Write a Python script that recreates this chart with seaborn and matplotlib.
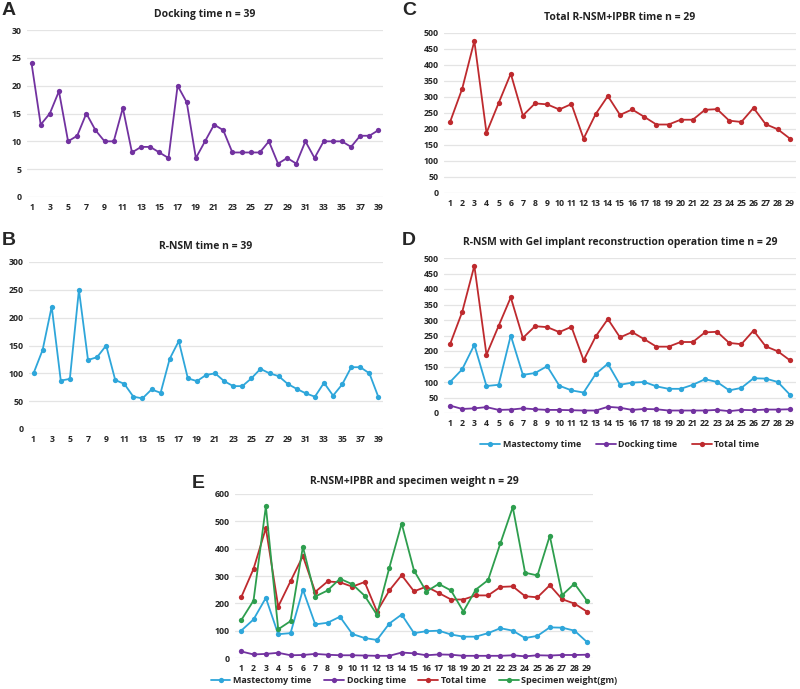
import numpy as np
import pandas as pd
import matplotlib
matplotlib.use("Agg")
import matplotlib.pyplot as plt
import seaborn as sns

# ---- data ----
docking_39 = [24, 13, 15, 19, 10, 11, 15, 12, 10, 10, 16, 8, 9, 9, 8, 7, 20, 17, 7, 10,
              13, 12, 8, 8, 8, 8, 10, 6, 7, 6, 10, 7, 10, 10, 10, 9, 11, 11, 12]
rnsm_39 = [100, 142, 220, 87, 90, 250, 124, 129, 150, 88, 81, 58, 55, 71, 65, 126, 158, 91, 86, 97,
           100, 86, 77, 77, 91, 108, 100, 95, 81, 72, 64, 58, 83, 60, 80, 111, 111, 100, 57]

mastectomy_29 = [100, 141, 220, 87, 91, 250, 123, 129, 151, 88, 73, 66, 126, 159, 91, 98, 100, 86,
                 78, 78, 91, 109, 100, 73, 81, 112, 111, 100, 59]
docking_29 = [24, 13, 15, 19, 10, 11, 15, 12, 10, 10, 9, 8, 8, 20, 17, 10, 13, 12, 8, 8,
              8, 8, 10, 6, 10, 9, 11, 11, 12]
total_29 = [222, 326, 475, 188, 281, 373, 242, 280, 277, 261, 278, 170, 247, 303, 244, 261, 238,
            214, 214, 229, 229, 260, 262, 226, 222, 266, 215, 199, 170]
specimen_29 = [138, 210, 555, 105, 135, 407, 225, 247, 290, 270, 228, 158, 330, 492, 320, 243,
               271, 247, 170, 250, 285, 420, 552, 312, 302, 447, 230, 272, 210]

cases_39 = list(range(1, 40))
cases_29 = list(range(1, 30))

PURPLE = "#7232A0"
BLUE = "#2EA6DA"
RED = "#BE2A2E"
GREEN = "#2E9E4E"

sns.set_style("white")
plt.rcParams['font.family'] = ['Open Sans', 'DejaVu Sans']

W, H = 800, 689
fig = plt.figure(figsize=(W / 100, H / 100), dpi=100)


def px_axes(left, top, right, bottom):
    return fig.add_axes([left / W, 1 - bottom / H, (right - left) / W, (bottom - top) / H])


def style(ax, n, ymax, ystep, title, tick_every=1, title_pad=9):
    ax.set_xlim(0.5, n + 0.5)
    ax.set_ylim(0, ymax)
    ax.set_yticks(np.arange(0, ymax + 1, ystep))
    ax.set_xticks(range(1, n + 1, tick_every))
    ax.yaxis.grid(True, color="#e4e4e4", linewidth=0.9)
    ax.set_axisbelow(True)
    for s in ax.spines.values():
        s.set_visible(False)
    ax.tick_params(axis="both", length=0, labelsize=6.3, pad=4)
    for lab in ax.get_xticklabels() + ax.get_yticklabels():
        lab.set_fontweight("bold")
    ax.set_xlabel("")
    ax.set_ylabel("")
    ax.set_title(title, fontsize=7.5, fontweight="bold", pad=title_pad, color="#222222")


def draw(ax, x, y, color, label=None):
    sns.lineplot(x=x, y=y, ax=ax, color=color, marker="o", markersize=3.8,
                 markeredgewidth=0, linewidth=1.3, label=label, legend=False)


# A
axA = px_axes(27, 30, 383, 197)
draw(axA, cases_39, docking_39, PURPLE)
style(axA, 39, 30, 5, "Docking time n = 39", tick_every=2)

# B
axB = px_axes(29, 262, 383, 429)
draw(axB, cases_39, rnsm_39, BLUE)
style(axB, 39, 300, 50, "R-NSM time n = 39", tick_every=2)

# C
axC = px_axes(444, 33, 796, 193)
draw(axC, cases_29, total_29, RED)
style(axC, 29, 500, 50, "Total R-NSM+IPBR time n = 29")

# D
axD = px_axes(444, 258, 796, 413)
draw(axD, cases_29, mastectomy_29, BLUE, "Mastectomy time")
draw(axD, cases_29, docking_29, PURPLE, "Docking time")
draw(axD, cases_29, total_29, RED, "Total time")
style(axD, 29, 500, 50, "R-NSM with Gel implant reconstruction operation time n = 29")
axD.legend(loc="upper center", bbox_to_anchor=(0.5, -0.12), ncol=3, frameon=False,
           prop={"size": 6.5, "weight": "bold"}, handlelength=2.2, columnspacing=1.6,
           handletextpad=0.3)

# E
axE = px_axes(235, 494, 593, 658)
draw(axE, cases_29, mastectomy_29, BLUE, "Mastectomy time")
draw(axE, cases_29, docking_29, PURPLE, "Docking time")
draw(axE, cases_29, total_29, RED, "Total time")
draw(axE, cases_29, specimen_29, GREEN, "Specimen weight(gm)")
style(axE, 29, 600, 100, "R-NSM+IPBR and specimen weight n = 29", title_pad=7)
axE.legend(loc="upper center", bbox_to_anchor=(0.5, -0.075), ncol=4, frameon=False,
           prop={"size": 6.5, "weight": "bold"}, handlelength=2.2, columnspacing=1.4,
           handletextpad=0.3, borderaxespad=0.2)

# panel letters
for letter, x, y in [("A", 2, 2), ("B", 2, 232), ("C", 402, 2), ("D", 402, 232), ("E", 192, 475)]:
    fig.text(x / W, 1 - y / H, letter, fontsize=14, fontweight="bold", va="top", ha="left",
             family=["Liberation Sans", "DejaVu Sans"])

fig.savefig("out.png", dpi=100)
